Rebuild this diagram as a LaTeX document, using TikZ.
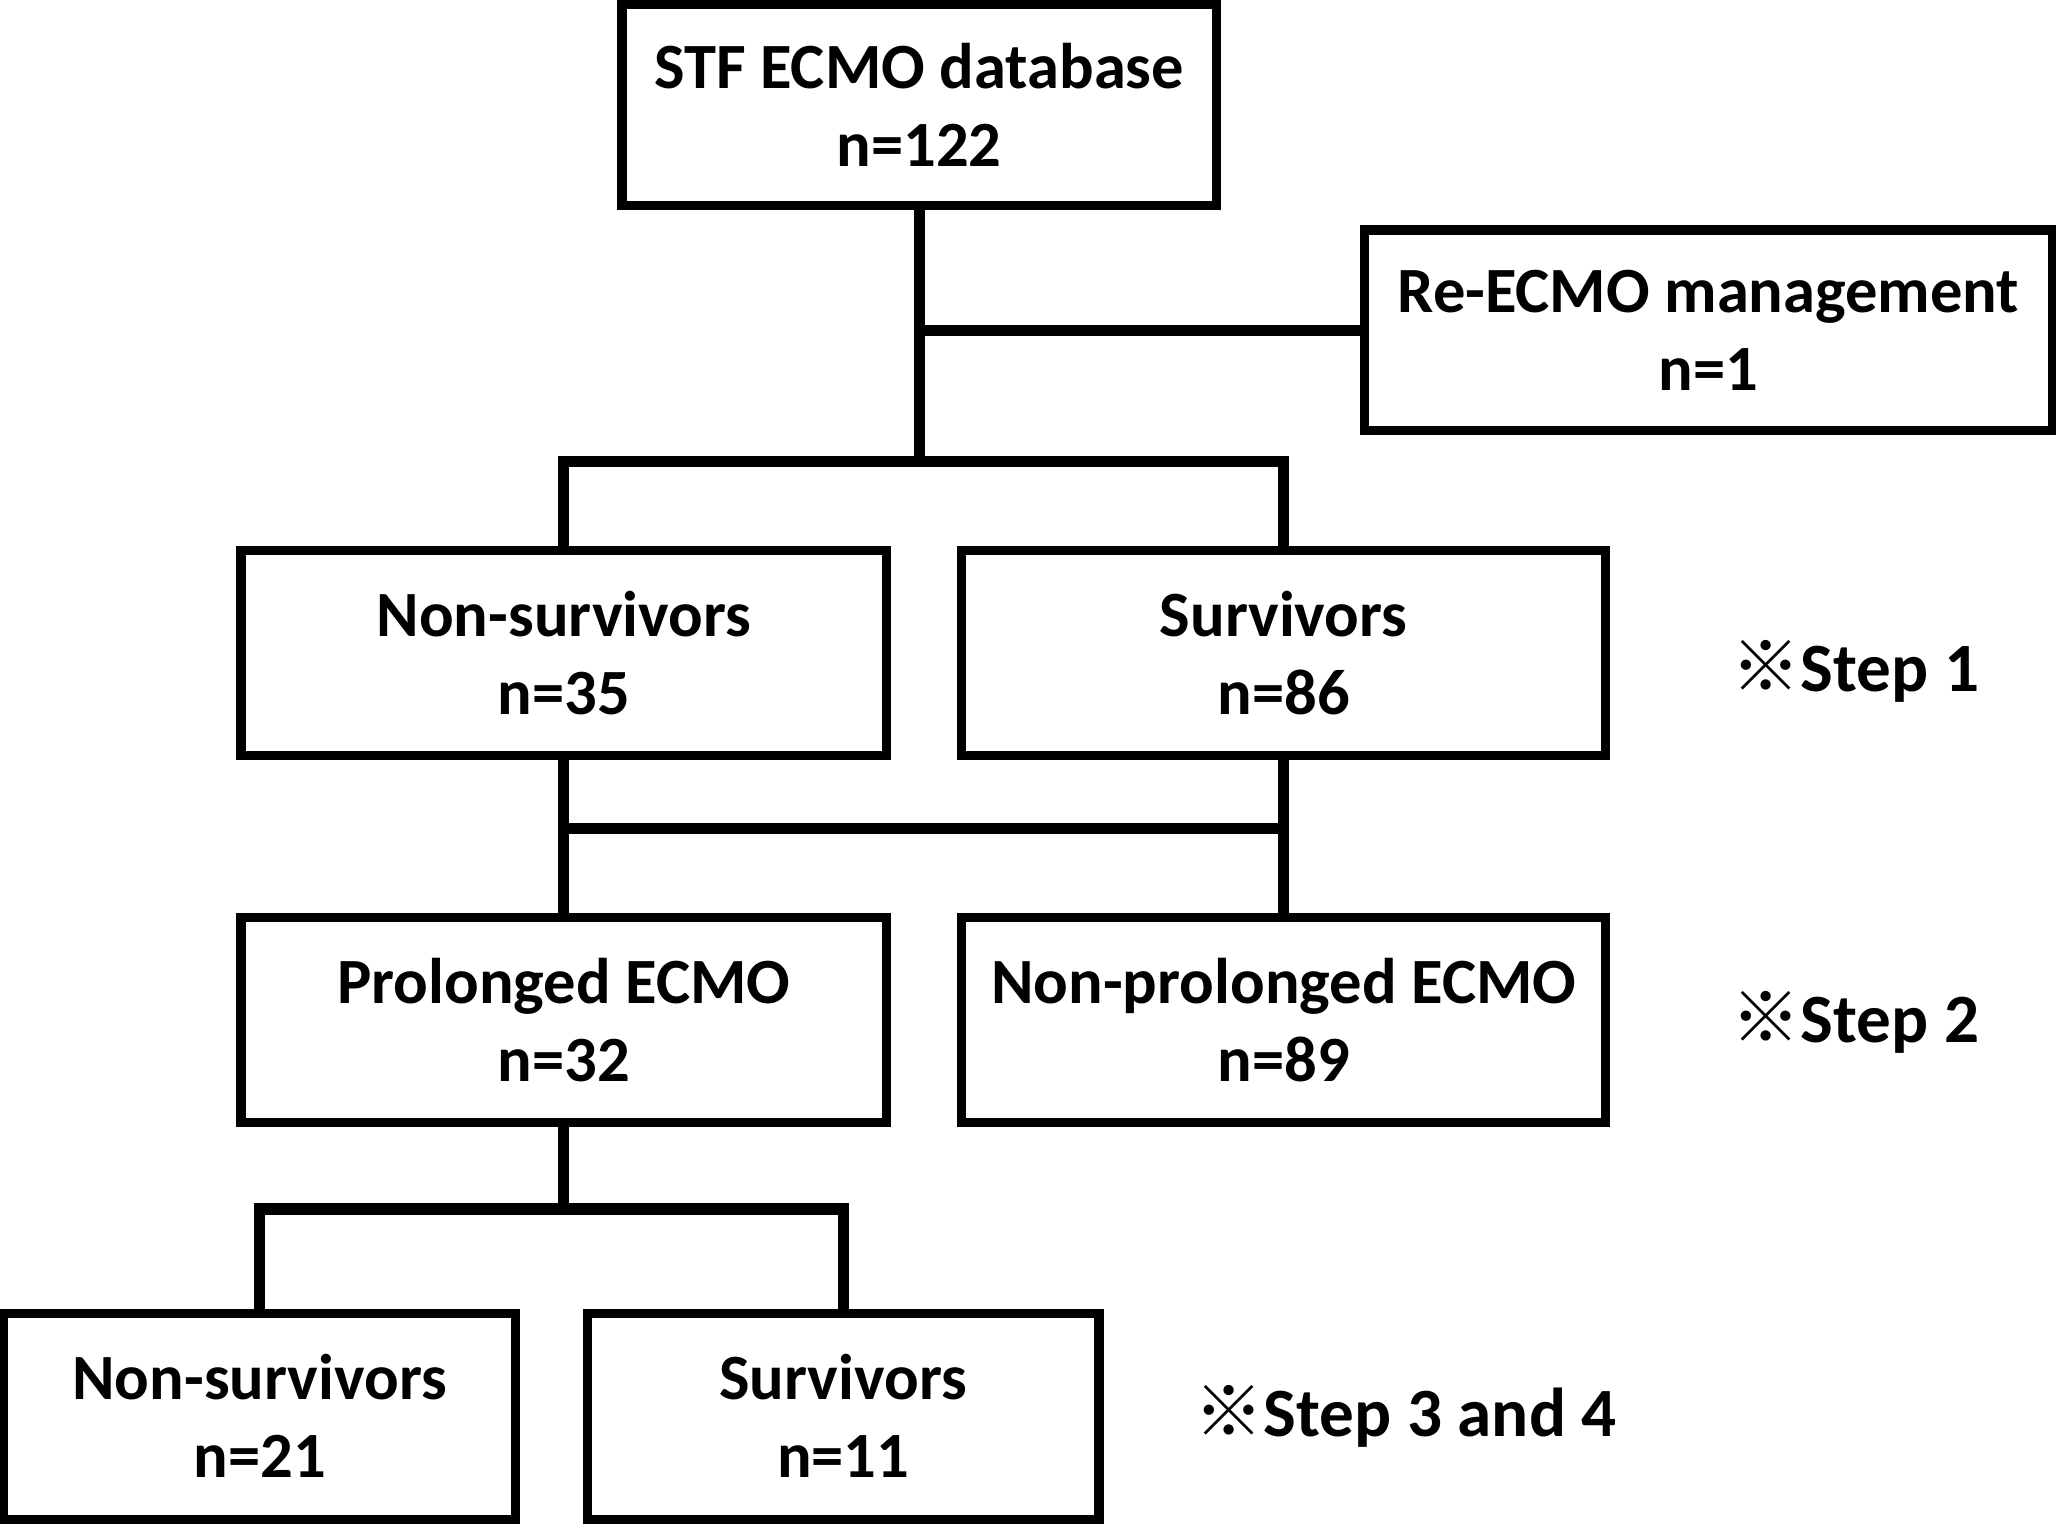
\documentclass[tikz,border=0pt]{standalone}
\usepackage{fontspec}
\setmainfont{Carlito}
\newfontfamily\cjk{Noto Sans CJK JP}
\usetikzlibrary{positioning, calc}

\tikzset{
  box/.style={draw, line width=2pt, align=center, inner sep=0pt,
    font=\fontsize{14}{17}\selectfont\bfseries},
  link/.style={line width=2.4pt},
  steplabel/.style={font=\fontsize{15}{17}\selectfont\bfseries}
}

\begin{document}
\begin{tikzpicture}[x=0.01cm, y=-0.01cm]
  \useasboundingbox (0,0) rectangle (1568,1162);

  % boxes
  \node[box, minimum width=4.53cm, minimum height=1.53cm] (db) at (701,80) {STF ECMO database\\n=122};
  \node[box, minimum width=5.24cm, minimum height=1.53cm] (re) at (1303,252) {Re-ECMO management\\n=1};
  \node[box, minimum width=4.92cm, minimum height=1.56cm] (ns1) at (430,498) {Non-survivors\\n=35};
  \node[box, minimum width=4.91cm, minimum height=1.56cm] (s1) at (979,498) {Survivors\\n=86};
  \node[box, minimum width=4.92cm, minimum height=1.56cm] (pro) at (430,778) {Prolonged ECMO\\n=32};
  \node[box, minimum width=4.91cm, minimum height=1.56cm] (npro) at (979,778) {Non-prolonged ECMO\\n=89};
  \node[box, minimum width=3.9cm, minimum height=1.57cm] (ns2) at (198,1080) {Non-survivors\\n=21};
  \node[box, minimum width=3.9cm, minimum height=1.57cm] (s2) at (643,1080) {Survivors\\n=11};

  % step labels
  \node[steplabel] (st1) at (1415,512) {{\cjk ※}Step 1};
  \node[steplabel] (st2) at (1415,780) {{\cjk ※}Step 2};
  \node[steplabel] (st3) at (1072,1080) {{\cjk ※}Step 3 and 4};

  % junctions
  \coordinate (j1) at (701,352);
  \coordinate (j2) at (701,632);
  \coordinate (j3) at (430,922);

  % connectors
  \draw[link] (db.south) -- (j1);
  \draw[link] (db.south |- re.west) -- (re.west);
  \draw[link] (ns1.north) |- (j1) -| (s1.north);
  \draw[link] (ns1.south) -- (pro.north);
  \draw[link] (s1.south) -- (npro.north);
  \draw[link] (ns1.south |- j2) -- (s1.south |- j2);
  \draw[link] (pro.south) -- (j3);
  \draw[link] (ns2.north) |- (j3) -| (s2.north);
\end{tikzpicture}
\end{document}
